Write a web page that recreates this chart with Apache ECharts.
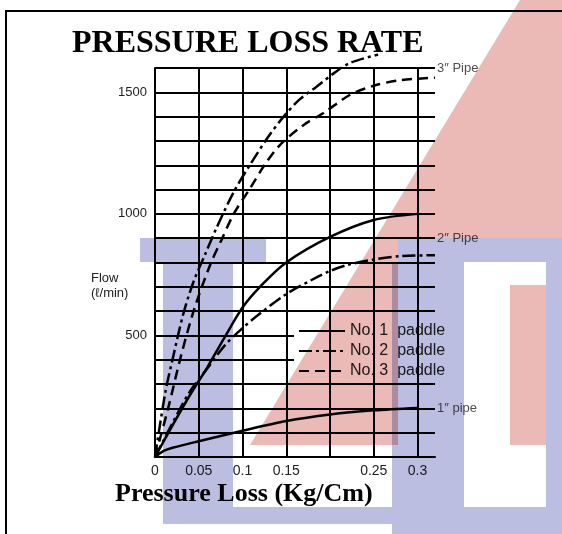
<!DOCTYPE html>
<html>
<head>
<meta charset="utf-8">
<script src="https://cdn.jsdelivr.net/npm/echarts@6/dist/echarts.min.js"></script>
<style>
  html, body { margin: 0; padding: 0; background: #fff; }
  #chart { width: 562px; height: 534px; }
</style>
</head>
<body>
<div id="chart"></div>
<script>
// labelled ticks
let xLabels = [0, 0.05, 0.1, 0.15, 0.25, 0.3];
let yLabels = [500, 1000, 1500];
let xGridLines = [0.05, 0.1, 0.15, 0.2, 0.25, 0.3];

// curves: [pressure loss, flow]
let pipe3No2 = [[0, 0], [0.012, 270], [0.02, 400], [0.032, 584], [0.044, 721], [0.057, 831], [0.07, 940],
  [0.09, 1090], [0.11, 1210], [0.13, 1320], [0.147, 1400], [0.165, 1470], [0.185, 1524], [0.205, 1580],
  [0.223, 1621], [0.255, 1655]];
let pipe3No3 = [[0, 0], [0.015, 200], [0.03, 420], [0.045, 610], [0.063, 790], [0.076, 893], [0.09, 1000],
  [0.109, 1107], [0.125, 1200], [0.143, 1284], [0.17, 1366], [0.193, 1416], [0.223, 1490], [0.25, 1527],
  [0.28, 1550], [0.32, 1560]];
let pipe2No1 = [[0, 0], [0.02, 130], [0.04, 255], [0.06, 370], [0.08, 495], [0.1, 615], [0.12, 700],
  [0.15, 800], [0.2, 905], [0.25, 975], [0.3, 1000]];
let pipe2No2 = [[0, 0], [0.02, 140], [0.04, 270], [0.06, 365], [0.08, 460], [0.1, 530], [0.12, 590],
  [0.15, 670], [0.18, 730], [0.2, 765], [0.22, 790], [0.25, 812], [0.28, 826], [0.32, 830]];
let pipe1No1 = [[0, 0], [0.01, 25], [0.02, 38], [0.05, 65], [0.1, 108], [0.15, 148], [0.2, 175],
  [0.25, 192], [0.3, 202]];

let pipeNames = ['3\u2033 Pipe', '2\u2033 Pipe', '1\u2033 pipe'];
let pipeLevels = [1600, 900, 200];
let paddleNames = ['No. 1  paddle', 'No. 2  paddle', 'No. 3  paddle'];

let myChart = echarts.init(document.getElementById('chart'));

let dashDot = [13, 4, 3, 4];
function curve(name, data, type) {
    return {
        name: name,
        type: 'line',
        data: data,
        smooth: 0.3,
        symbol: 'none',
        clip: false,
        z: 5,
        itemStyle: { color: '#000' },
        lineStyle: { color: '#000', width: 2.5, type: type }
    };
}

// logo watermark, multiplied over the drawing like the scan
let pink = '#ebbab6';
let blue = '#bcbee1';
function mark(shape, fill, type) {
    return { type: type || 'rect', z: 100, silent: true, shape: shape, style: { fill: fill, blend: 'multiply' } };
}

let option = {
    animation: false,
    backgroundColor: '#fff',
    title: {
        text: 'PRESSURE LOSS RATE',
        left: 67,
        top: 23,
        textStyle: { fontFamily: 'Liberation Serif', fontWeight: 'bold', fontSize: 32, color: '#000' }
    },
    legend: {
        data: paddleNames,
        orient: 'vertical',
        left: 294,
        top: 313,
        padding: [10, 2, 3, 4],
        backgroundColor: '#fff',
        itemWidth: 46,
        itemHeight: 10,
        itemGap: 4,
        itemStyle: { opacity: 0 },
        textStyle: { fontFamily: 'Liberation Sans', fontSize: 16, color: '#222' }
    },
    grid: { left: 155, top: 68, width: 280, height: 389 },
    xAxis: {
        type: 'value',
        min: 0,
        max: 0.32,
        interval: 0.05,
        axisLine: { lineStyle: { color: '#000', width: 2 } },
        axisTick: { show: false },
        splitLine: { show: false },
        axisLabel: {
            margin: 7,
            color: '#222',
            fontFamily: 'Liberation Sans',
            fontSize: 14,
            showMaxLabel: false,
            formatter: function (v) {
                for (let i = 0; i < xLabels.length; i++) {
                    if (Math.abs(v - xLabels[i]) < 1e-6) return String(xLabels[i]);
                }
                return '';
            }
        }
    },
    yAxis: {
        type: 'value',
        min: 0,
        max: 1600,
        interval: 100,
        axisLine: { show: true, lineStyle: { color: '#000', width: 2 } },
        axisTick: { show: false },
        splitLine: { lineStyle: { color: '#000', width: 2 } },
        axisLabel: {
            margin: 8,
            color: '#222',
            fontFamily: 'Liberation Sans',
            fontSize: 13,
            formatter: function (v) {
                return yLabels.indexOf(v) >= 0 ? String(v) : '';
            }
        }
    },
    graphic: [
        mark({ points: [[520, 0], [562, 0], [562, 238], [398, 238], [398, 445], [250, 445]] }, pink, 'polygon'),
        mark({ x: 510, y: 285, width: 36, height: 160 }, pink),
        mark({ x: 140, y: 238, width: 126, height: 24 }, blue),
        mark({ x: 163, y: 262, width: 70, height: 262 }, blue),
        mark({ x: 398, y: 238, width: 164, height: 24 }, blue),
        mark({ x: 392, y: 262, width: 72, height: 272 }, blue),
        mark({ x: 546, y: 262, width: 16, height: 272 }, blue),
        mark({ x: 233, y: 507, width: 159, height: 17 }, blue),
        mark({ x: 464, y: 507, width: 82, height: 27 }, blue),
        // frame
        { type: 'rect', z: 10, silent: true, shape: { x: 6, y: 11, width: 620, height: 600 },
          style: { fill: 'none', stroke: '#000', lineWidth: 2 } },
        { type: 'text', left: 91, top: 271, z: 10,
          style: { text: 'Flow\n(\u2113/min)', font: '13px "Liberation Sans"', fill: '#222', lineHeight: 15 } },
        { type: 'text', left: 115, top: 481, z: 10,
          style: { text: 'Pressure Loss (Kg/Cm)', font: 'bold 26px "Liberation Serif"', fill: '#000' } }
    ],
    series: [
        {
            type: 'line',
            data: [],
            markLine: {
                silent: true,
                symbol: 'none',
                label: { show: false },
                lineStyle: { color: '#000', width: 2, type: 'solid' },
                data: xGridLines.map(function (v) { return { xAxis: v }; })
            }
        },
        curve(paddleNames[1], pipe3No2, dashDot),
        curve(paddleNames[2], pipe3No3, [10, 6]),
        curve(paddleNames[0], pipe2No1, 'solid'),
        curve(paddleNames[1], pipe2No2, dashDot),
        curve(paddleNames[0], pipe1No1, 'solid'),
        {
            type: 'scatter',
            symbolSize: 0,
            silent: true,
            data: pipeLevels.map(function (v, i) { return { name: pipeNames[i], value: [0.32, v] }; }),
            label: {
                show: true,
                position: 'right',
                distance: 2,
                formatter: '{b}',
                color: '#222',
                fontFamily: 'Liberation Sans',
                fontSize: 13
            }
        }
    ]
};
myChart.setOption(option);
</script>
</body>
</html>
